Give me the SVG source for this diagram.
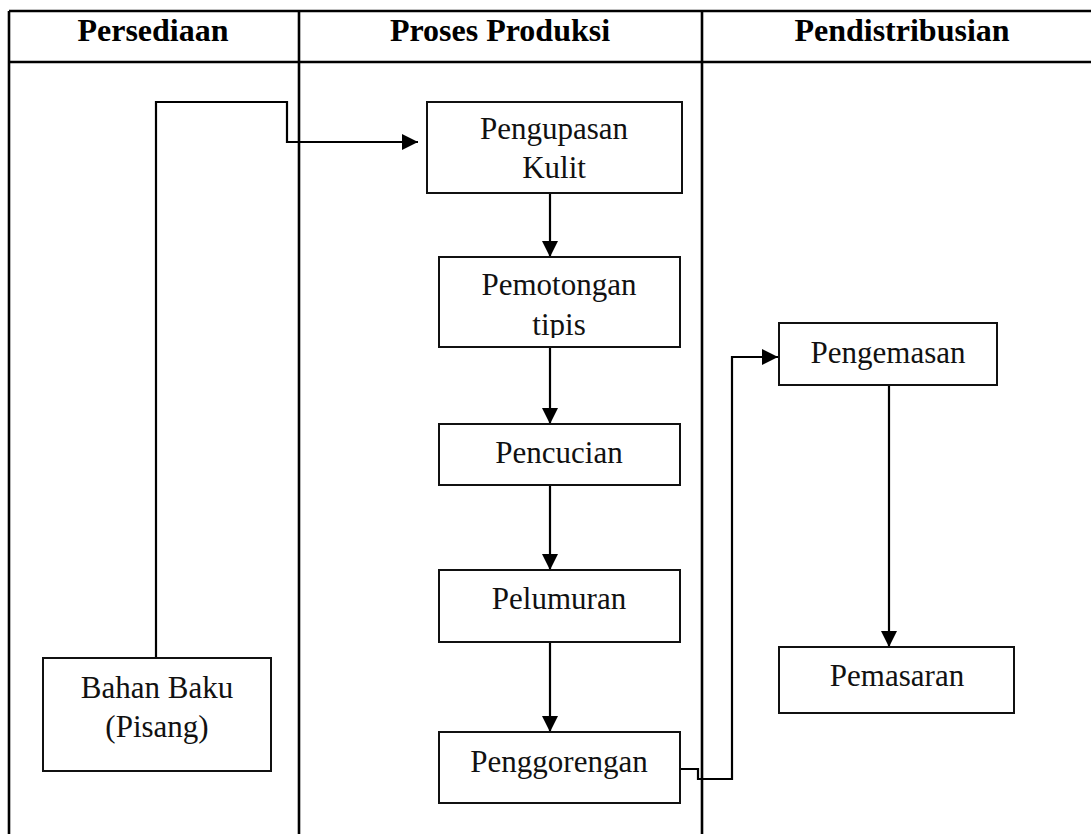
<svg xmlns="http://www.w3.org/2000/svg" width="1091" height="834" viewBox="0 0 1091 834">
<style>
.tbl{stroke:#000;stroke-width:2.6;fill:none}
.box{fill:#fff;stroke:#111;stroke-width:2}
.lbl{font-family:"Liberation Serif",serif;font-size:31px;fill:#111;text-anchor:middle}
.hdr{font-family:"Liberation Serif",serif;font-size:32px;font-weight:bold;fill:#000;text-anchor:middle}
.con{fill:none;stroke:#000;stroke-width:2.2}
</style>
<defs>
<marker id="ah" markerUnits="userSpaceOnUse" markerWidth="17" markerHeight="17" viewBox="0 0 17 17" refX="16" refY="8.5" orient="auto">
<path d="M0,0.5 L16,8.5 L0,16.5 Z" fill="#000"/>
</marker>
<clipPath id="clipPem"><rect x="439" y="257" width="241" height="81"/></clipPath>
</defs>
<rect width="1091" height="834" fill="#fff"/>
<g id="table">
<line class="tbl" x1="9" y1="11" x2="1091" y2="11"/>
<line class="tbl" x1="9" y1="62" x2="1091" y2="62"/>
<line class="tbl" x1="9" y1="11" x2="9" y2="834"/>
<line class="tbl" x1="299" y1="11" x2="299" y2="834"/>
<line class="tbl" x1="702" y1="11" x2="702" y2="834"/>
<text class="hdr" x="153" y="41">Persediaan</text>
<text class="hdr" x="500" y="41">Proses Produksi</text>
<text class="hdr" x="902" y="41">Pendistribusian</text>
</g>
<g id="connectors">
<path class="con" d="M156,658 V102 H287 V142 H418" marker-end="url(#ah)"/>
<path class="con" d="M550,193 V257" marker-end="url(#ah)"/>
<path class="con" d="M550,347 V424" marker-end="url(#ah)"/>
<path class="con" d="M550,485 V570" marker-end="url(#ah)"/>
<path class="con" d="M550,642 V732" marker-end="url(#ah)"/>
<path class="con" d="M680,769 H698 V779 H732 V357 H778" marker-end="url(#ah)"/>
<path class="con" d="M889,385 V647" marker-end="url(#ah)"/>
</g>
<g id="bahan-baku">
<rect class="box" x="43" y="658" width="228" height="113"/>
<text class="lbl" x="157" y="698">Bahan Baku</text>
<text class="lbl" x="157" y="737">(Pisang)</text>
</g>
<g id="pengupasan-kulit">
<rect class="box" x="427" y="102" width="255" height="91"/>
<text class="lbl" x="554" y="139">Pengupasan</text>
<text class="lbl" x="554" y="178">Kulit</text>
</g>
<g id="pemotongan-tipis">
<rect class="box" x="439" y="257" width="241" height="90"/>
<g clip-path="url(#clipPem)">
<text class="lbl" x="559" y="295">Pemotongan</text>
<text class="lbl" x="559" y="335">tipis</text>
</g>
</g>
<g id="pencucian">
<rect class="box" x="439" y="424" width="241" height="61"/>
<text class="lbl" x="559" y="463">Pencucian</text>
</g>
<g id="pelumuran">
<rect class="box" x="439" y="570" width="241" height="72"/>
<text class="lbl" x="559" y="609">Pelumuran</text>
</g>
<g id="penggorengan">
<rect class="box" x="439" y="732" width="241" height="71"/>
<text class="lbl" x="559" y="772">Penggorengan</text>
</g>
<g id="pengemasan">
<rect class="box" x="779" y="323" width="218" height="62"/>
<text class="lbl" x="888" y="363">Pengemasan</text>
</g>
<g id="pemasaran">
<rect class="box" x="779" y="647" width="235" height="66"/>
<text class="lbl" x="897" y="686">Pemasaran</text>
</g>
</svg>
